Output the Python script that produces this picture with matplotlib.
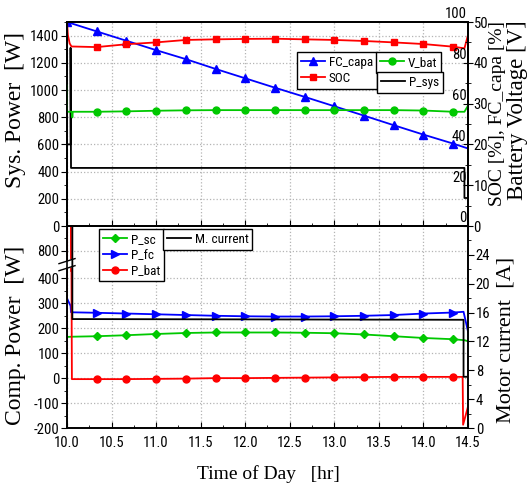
import numpy as np
import matplotlib
matplotlib.use('Agg')
import matplotlib.pyplot as plt
import matplotlib.transforms as mt
from matplotlib import font_manager as fm
from matplotlib.ticker import MultipleLocator, FixedLocator

# pick a narrow sans font for ticks / legends
avail = {f.name for f in fm.fontManager.ttflist}
NARROW = None
for cand in ['Liberation Sans Narrow', 'Roboto Condensed', 'Open Sans Condensed', 'Arial Narrow']:
    if cand in avail:
        NARROW = cand
        break
dj_cond = [f for f in fm.fontManager.ttflist
           if f.name == 'DejaVu Sans' and str(f.stretch) in ('condensed', 'semi-condensed')]
if NARROW is not None:
    plt.rcParams['font.family'] = [NARROW, 'DejaVu Sans']
    TICK_FS, LEG_FS = 10.5, 9.5
elif dj_cond:
    plt.rcParams['font.family'] = ['DejaVu Sans']
    plt.rcParams['font.stretch'] = 'condensed'
    TICK_FS, LEG_FS = 9.5, 8.5
else:
    plt.rcParams['font.family'] = ['Liberation Sans', 'DejaVu Sans']
    TICK_FS, LEG_FS = 9, 8
plt.rcParams['font.size'] = TICK_FS

# ---------------- data ----------------
t_mark = [10.333, 10.667, 11.0, 11.333, 11.667, 12.0, 12.333, 12.667, 13.0, 13.333, 13.667, 14.0, 14.333]

fc_t = [10.0] + t_mark + [14.5]
fc_capa = [100.0, 95.4, 90.8, 86.2, 81.8, 77.0, 72.4, 67.8, 63.3, 58.7, 54.1, 49.4, 44.8, 40.4, 38.0]

soc_t = [10.0, 10.01, 10.03, 10.05] + t_mark + [14.46, 14.5]
soc = [100.0, 93.6, 89.5, 88.0,
       87.7, 89.1, 90.0, 91.2, 91.5, 91.7, 91.8, 91.5, 91.2, 90.7, 90.0, 89.2, 87.9,
       87.1, 93.6]

vbat_t = [10.0, 10.0, 10.055, 10.06, 10.065] + t_mark + [14.46, 14.5]
vbat = [34.5, 28.0, 28.0, 26.6, 28.0,
        28.0, 28.1, 28.25, 28.35, 28.4, 28.4, 28.4, 28.4, 28.4, 28.4, 28.4, 28.3, 28.0,
        28.0, 29.5]

psys_t = [10.0, 10.0, 10.04, 10.04, 10.045, 14.46, 14.46, 14.5]
psys = [1330, 600, 600, 1310, 427, 427, 206, 206]

psc_t = [10.0, 10.05] + t_mark + [14.46, 14.5]
psc = [165, 166,
       168, 172, 177, 181, 183, 183, 183, 182, 180, 175, 168, 161, 156,
       152, 148]

pfc_t = [10.0, 10.0, 10.04, 10.045] + t_mark + [14.45, 14.5]
pfc = [0, 320, 290, 264,
       262, 259, 256, 253, 250, 248, 247, 247, 248, 250, 253, 259, 263,
       266, 187]

pbat_t = [10.0, 10.003, 10.04, 10.045, 10.05, 10.055] + t_mark + [14.44, 14.445, 14.5]
pbat = [0, 1500, 1500, 430, 430, -4,
        -4, -4, -3, -2, 0, 0, 1, 2, 3, 4, 5, 5, 5,
        5, -187, -114]

mcur_t = [10.0, 10.06, 10.06, 14.45, 14.45, 14.5]
mcur = [40, 40, 15.1, 15.0, 7.1, 7.1]

x_ticks = [10.0, 10.5, 11.0, 11.5, 12.0, 12.5, 13.0, 13.5, 14.0, 14.5]
x_ticklabels = ['10.0', '10.5', '11.0', '11.5', '12.0', '12.5', '13.0', '13.5', '14.0', '14.5']
bot_yticks = [-200, -100, 0, 100, 200, 300, 400, 800]
soc_ticks = [0, 20, 40, 60, 80, 100]
vbat_ticks = [0, 10, 20, 30, 40, 50]

# ---------------- colours / style ----------------
BLUE = '#0000ff'
RED = '#ff0000'
GREEN = '#00c800'
GRID = dict(color='#b4b4b4', linestyle=':', linewidth=0.9)
SERIF = 'Liberation Serif'

W, H = 528, 488
fig = plt.figure(figsize=(W / 100, H / 100), dpi=100)

def fx(px):
    return px / W

def fy(py):
    return 1 - py / H

L, R = 67, 468
ax1 = fig.add_axes([fx(L), fy(226), fx(R - L), (226 - 22) / H])
ax3 = fig.add_axes([fx(L), fy(428), fx(R - L), (428 - 226) / H])

# ---------------- top panel ----------------
ax1.set_xlim(10.0, 14.5)
ax1.set_ylim(0, 1500)
ax1.set_yticks(np.arange(0, 1401, 200))
ax1.yaxis.set_minor_locator(MultipleLocator(100))
ax1.set_xticks(x_ticks)
ax1.xaxis.set_minor_locator(MultipleLocator(0.25))
ax1.grid(True, which='major', **GRID)
ax1.tick_params(axis='x', which='both', direction='in', labelbottom=False, top=False)
ax1.tick_params(axis='x', which='major', length=4)
ax1.tick_params(axis='x', which='minor', length=2.5)
ax1.tick_params(axis='y', which='both', direction='out', right=False)
ax1.tick_params(axis='y', which='major', length=4, pad=1.5)
ax1.tick_params(axis='y', which='minor', length=2.5)
h_psys, = ax1.plot(psys_t, psys, color='black', lw=1.3, label='P_sys')

ax_soc = ax1.twinx()
ax_soc.set_ylim(0, 100)
ax_soc.set_yticks(soc_ticks)
ax_soc.tick_params(axis='y', length=0, labelright=False)
soc_trans = mt.offset_copy(mt.blended_transform_factory(ax_soc.transAxes, ax_soc.transData),
                           fig=fig, x=-1.0, y=0.5, units='points')
for v in soc_ticks:
    ax_soc.text(1.0, v, str(v), transform=soc_trans, ha='right', va='bottom',
                fontsize=TICK_FS, clip_on=False)
h_fc, = ax_soc.plot(fc_t, fc_capa, color=BLUE, lw=1.3, marker='^', ms=6,
                    markevery=list(range(len(fc_t) - 1)), label='FC_capa')
h_soc, = ax_soc.plot(soc_t, soc, color=RED, lw=1.3, marker='s', ms=5,
                     markevery=list(range(4, 4 + len(t_mark))), label='SOC')

ax_v = ax1.twinx()
ax_v.set_ylim(0, 50)
ax_v.set_yticks(vbat_ticks)
ax_v.yaxis.set_minor_locator(MultipleLocator(5))
ax_v.tick_params(axis='y', which='major', direction='inout', length=7, pad=0.5)
ax_v.tick_params(axis='y', which='minor', direction='inout', length=4)
h_v, = ax_v.plot(vbat_t, vbat, color=GREEN, lw=1.3, marker='o', ms=5,
                 markevery=list(range(5, 5 + len(t_mark))), label='V_bat')

legkw = dict(loc='upper left', borderaxespad=0, fancybox=False, edgecolor='black',
             framealpha=1, numpoints=1, handlelength=1.8, handletextpad=0.3,
             labelspacing=0.2, borderpad=0.3, fontsize=LEG_FS)
lg1 = ax_v.legend([h_fc, h_soc], ['FC_capa', 'SOC'], bbox_to_anchor=(0.574, 0.853), **legkw)
ax_v.add_artist(lg1)
lg2 = ax_v.legend([h_v], ['V_bat'], bbox_to_anchor=(0.771, 0.853), **legkw)
ax_v.add_artist(lg2)
lg3 = ax_v.legend([h_psys], ['P_sys'], bbox_to_anchor=(0.773, 0.755), **legkw)
for lg in (lg1, lg2, lg3):
    lg.get_frame().set_linewidth(1.0)

# ---------------- bottom panel ----------------
def fwd(y):
    return np.interp(y, [-1e5, 450, 750, 1e5], [-1e5, 450, 460, 1e5 - 290])

def inv(y):
    return np.interp(y, [-1e5, 450, 460, 1e5 - 290], [-1e5, 450, 750, 1e5])

ax3.set_yscale('function', functions=(fwd, inv))
ax3.set_xlim(10.0, 14.5)
ax3.set_ylim(-200, 900)
ax3.yaxis.set_major_locator(FixedLocator(bot_yticks))
ax3.yaxis.set_minor_locator(FixedLocator([-150, -50, 50, 150, 250, 350, 850]))
ax3.set_yticklabels([str(v) for v in bot_yticks])
ax3.set_xticks(x_ticks)
ax3.set_xticklabels(x_ticklabels)
ax3.xaxis.set_minor_locator(MultipleLocator(0.25))
ax3.grid(True, which='major', **GRID)
ax3.tick_params(axis='x', which='both', direction='in', top=False, pad=6)
ax3.tick_params(axis='x', which='major', length=4)
ax3.tick_params(axis='x', which='minor', length=2.5)
ax3.tick_params(axis='y', which='both', direction='out', right=False)
ax3.tick_params(axis='y', which='major', length=4, pad=1.5)
ax3.tick_params(axis='y', which='minor', length=2.5)

h_psc, = ax3.plot(psc_t, psc, color=GREEN, lw=1.3, marker='D', ms=4.5,
                  markevery=list(range(2, 2 + len(t_mark))), label='P_sc')
h_pfc, = ax3.plot(pfc_t, pfc, color=BLUE, lw=1.3, marker='>', ms=6,
                  markevery=list(range(4, 4 + len(t_mark))), label='P_fc')
h_pbat, = ax3.plot(pbat_t, pbat, color=RED, lw=1.3, marker='o', ms=5,
                   markevery=list(range(6, 6 + len(t_mark))), label='P_bat')

ax_cur = ax3.twinx()
ax_cur.set_ylim(0, 28)
ax_cur.set_yticks(np.arange(0, 25, 4))
ax_cur.yaxis.set_minor_locator(MultipleLocator(2))
ax_cur.tick_params(axis='y', which='major', direction='out', length=4, pad=1.5)
ax_cur.tick_params(axis='y', which='minor', direction='out', length=2.5)
h_cur, = ax_cur.plot(mcur_t, mcur, color='black', lw=1.3, label='M. current')

lg4 = ax_cur.legend([h_psc, h_pfc, h_pbat], ['P_sc', 'P_fc', 'P_bat'],
                    bbox_to_anchor=(0.080, 0.985), **legkw)
ax_cur.add_artist(lg4)
lg5 = ax_cur.legend([h_cur], ['M. current'], bbox_to_anchor=(0.239, 0.985), **legkw)
for lg in (lg4, lg5):
    lg.get_frame().set_linewidth(1.0)

# axis break marks on the left spine
yb = (fwd(600) - fwd(-200)) / (fwd(900) - fwd(-200))
ax3.fill([-0.02, 0.02, 0.02, -0.02],
         [yb - 0.03, yb - 0.005, yb + 0.03, yb + 0.005],
         color='white', transform=ax3.transAxes, clip_on=False, zorder=9)
for dy in (-0.0175, 0.0175):
    ax3.plot([-0.02, 0.02], [yb + dy - 0.0125, yb + dy + 0.0125], color='black', lw=1.0,
             transform=ax3.transAxes, clip_on=False, zorder=10)

for ax in (ax1, ax_soc, ax_v, ax3, ax_cur):
    for s in ax.spines.values():
        s.set_linewidth(1.2)

# ---------------- axis titles ----------------
fig.text(fx(16), fy(110), 'Sys. Power  [W]', rotation=90, ha='center', va='center',
         family=SERIF, fontsize=17, stretch='normal')
fig.text(fx(16), fy(335), 'Comp. Power  [W]', rotation=90, ha='center', va='center',
         family=SERIF, fontsize=17, stretch='normal')
fig.text(fx(497), fy(113), 'SOC [%], FC_capa [%]', rotation=90, ha='center', va='center',
         family=SERIF, fontsize=14, stretch='normal')
fig.text(fx(518), fy(110), 'Battery Voltage [V]', rotation=90, ha='center', va='center',
         family=SERIF, fontsize=16.5, stretch='normal')
fig.text(fx(506), fy(340), 'Motor current  [A]', rotation=90, ha='center', va='center',
         family=SERIF, fontsize=16, stretch='normal')
fig.text(fx(268), fy(474), 'Time of Day   [hr]', ha='center', va='center',
         family=SERIF, fontsize=14, stretch='normal')

fig.savefig('out.png', dpi=100)
